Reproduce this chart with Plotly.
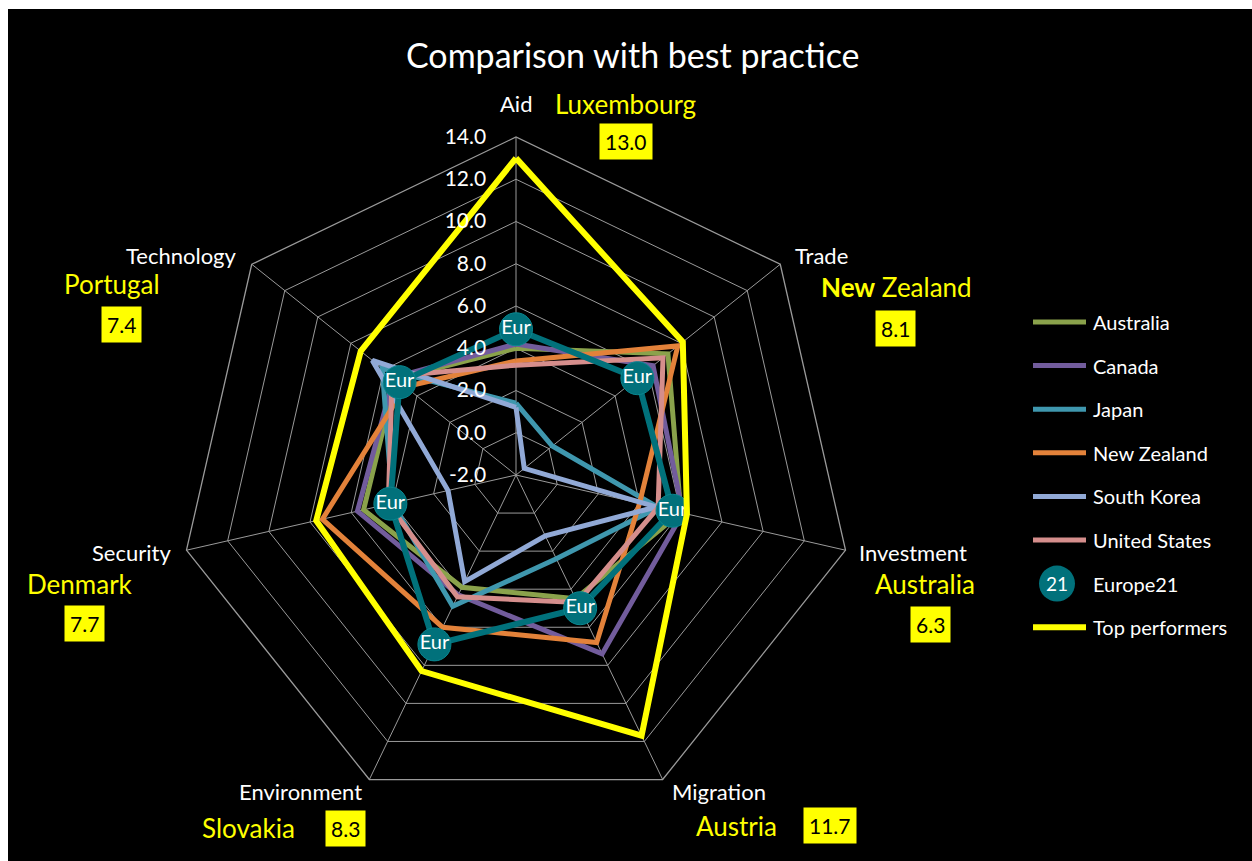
import plotly.graph_objects as go

# Dimensions of the comparison
categories = ["Aid", "Trade", "Investment", "Migration", "Environment", "Security", "Technology"]

# Scores per country (same order as categories)
australia = [4.0, 7.2, 6.0, 4.5, 3.9, 5.4, 5.3]
canada = [4.2, 6.3, 6.1, 7.4, 4.3, 5.7, 5.4]
japan = [1.4, 0.2, 4.9, 2.4, 4.9, 4.0, 6.1]
new_zealand = [3.4, 7.8, 4.0, 6.8, 6.0, 7.4, 4.7]
south_korea = [1.2, -1.5, 4.8, 1.2, 3.6, 1.3, 6.7]
united_states = [3.2, 6.9, 4.9, 4.7, 4.4, 4.2, 5.5]
europe21 = [4.9, 5.35, 5.6, 5.0, 6.9, 4.1, 5.05]
top_performers = [13.0, 8.1, 6.3, 11.7, 8.3, 7.7, 7.4]
top_countries = ["Luxembourg", "<b>New</b> Zealand", "Australia", "Austria", "Slovakia", "Denmark", "Portugal"]

radial_ticks = [-2, 0, 2, 4, 6, 8, 10, 12, 14]

series = [
    ("Australia", australia, "#8aa24b"),
    ("Canada", canada, "#725c9c"),
    ("Japan", japan, "#3f97ae"),
    ("New Zealand", new_zealand, "#e3823a"),
    ("South Korea", south_korea, "#91a9d6"),
    ("United States", united_states, "#d58e8c"),
]
EUR_COLOR = "#01717b"
TOP_COLOR = "#ffff00"
GRID = "#9a9a9a"

W, H = 1252, 861
FONT = "Lato"


def px(x):
    return x / W


def py(y):
    return 1 - y / H


def closed(values):
    return list(values) + [values[0]]


theta = closed(categories)

fig = go.Figure()

for name, vals, color in series:
    fig.add_trace(go.Scatterpolar(
        r=closed(vals), theta=theta, mode="lines", name=name,
        line=dict(color=color, width=5), showlegend=False,
    ))

fig.add_trace(go.Scatterpolar(
    r=closed(europe21), theta=theta, mode="lines", name="Europe21",
    line=dict(color=EUR_COLOR, width=6), showlegend=False,
))
fig.add_trace(go.Scatterpolar(
    r=europe21, theta=categories, mode="markers+text", name="Europe21",
    marker=dict(size=33, color=EUR_COLOR, line=dict(color="#0a8790", width=1)),
    text=["Eur"] * len(categories), textposition="middle center",
    textfont=dict(family=FONT, size=20, color="white"), showlegend=False,
))
fig.add_trace(go.Scatterpolar(
    r=closed(top_performers), theta=theta, mode="lines", name="Top performers",
    line=dict(color=TOP_COLOR, width=6), showlegend=False,
))

# Polar geometry: centre and outer radius in pixels
CX, CY, R = 516, 475, 338
fig.update_layout(
    width=W, height=H,
    margin=dict(l=0, r=0, t=0, b=0),
    paper_bgcolor="white",
    showlegend=False,
    polar=dict(
        domain=dict(x=[px(CX - R), px(CX + R)], y=[py(CY + R), py(CY - R)]),
        bgcolor="black",
        gridshape="linear",
        radialaxis=dict(
            range=[-2, 14], tickvals=radial_ticks,
            ticktext=[f"{v:.1f}" for v in radial_ticks],
            angle=90, tickangle=90, side="counterclockwise",
            showline=False, gridcolor=GRID, gridwidth=1.3,
            ticks="outside", ticklen=22, tickcolor="rgba(0,0,0,0)",
            tickfont=dict(family=FONT, size=21, color="white"),
            layer="above traces",
        ),
        angularaxis=dict(
            direction="clockwise", rotation=90,
            showticklabels=False, ticks="",
            gridcolor=GRID, gridwidth=1.3, linecolor=GRID, linewidth=1.3,
        ),
    ),
)

shapes = [dict(type="rect", xref="paper", yref="paper", x0=px(8), x1=1, y0=0, y1=py(9),
               fillcolor="black", line=dict(width=0), layer="below")]
annotations = [dict(text="Comparison with best practice", x=px(633), y=py(54), xref="paper", yref="paper",
                    showarrow=False, xanchor="center", yanchor="middle",
                    font=dict(family=FONT, size=34, color="white"))]

# Axis names around the web
cat_pos = [(516, 103), (821, 255), (913, 552), (719, 791), (300, 791), (131, 552), (181, 255)]
for name, (x, y) in zip(categories, cat_pos):
    annotations.append(dict(text=name, x=px(x), y=py(y), xref="paper", yref="paper", showarrow=False,
                            xanchor="center", yanchor="middle",
                            font=dict(family=FONT, size=22, color="white")))

# Best performer names and their scores
country_pos = [(625, 104), (896, 287), (925, 584), (736, 826), (248, 828), (80, 584), (112, 284)]
box_pos = [(626, 141), (895, 328), (930, 624), (830, 825), (345, 828), (84, 623), (121, 324)]
for cname, val, (cx, cy), (bx, by) in zip(top_countries, top_performers, country_pos, box_pos):
    annotations.append(dict(text=cname, x=px(cx), y=py(cy), xref="paper", yref="paper", showarrow=False,
                            xanchor="center", yanchor="middle",
                            font=dict(family=FONT, size=26, color=TOP_COLOR)))
    annotations.append(dict(text=f"{val:.1f}", x=px(bx), y=py(by), xref="paper", yref="paper", showarrow=False,
                            xanchor="center", yanchor="middle", bgcolor=TOP_COLOR, borderpad=5,
                            font=dict(family=FONT, size=21, color="black")))

# Legend
legend_items = [(n, c) for n, _, c in series]
ly0, ldy = 322, 43.6
for i, (name, color) in enumerate(legend_items):
    y = ly0 + i * ldy
    shapes.append(dict(type="line", xref="paper", yref="paper", x0=px(1033), x1=px(1086), y0=py(y), y1=py(y),
                       line=dict(color=color, width=5)))
    annotations.append(dict(text=name, x=px(1091), y=py(y), xref="paper", yref="paper", showarrow=False,
                            xanchor="left", yanchor="middle", font=dict(family=FONT, size=20, color="white")))
y = ly0 + 6 * ldy
shapes.append(dict(type="circle", xref="paper", yref="paper", x0=px(1039), x1=px(1075), y0=py(y + 18), y1=py(y - 18),
                   fillcolor=EUR_COLOR, line=dict(width=0)))
annotations.append(dict(text="21", x=px(1057), y=py(y), xref="paper", yref="paper", showarrow=False,
                        xanchor="center", yanchor="middle", font=dict(family=FONT, size=19, color="white")))
annotations.append(dict(text="Europe21", x=px(1091), y=py(y), xref="paper", yref="paper", showarrow=False,
                        xanchor="left", yanchor="middle", font=dict(family=FONT, size=20, color="white")))
y = ly0 + 7 * ldy
shapes.append(dict(type="line", xref="paper", yref="paper", x0=px(1033), x1=px(1086), y0=py(y), y1=py(y),
                   line=dict(color=TOP_COLOR, width=6)))
annotations.append(dict(text="Top performers", x=px(1091), y=py(y), xref="paper", yref="paper", showarrow=False,
                        xanchor="left", yanchor="middle", font=dict(family=FONT, size=20, color="white")))

fig.update_layout(shapes=shapes, annotations=annotations)
fig.write_html("out.html")
